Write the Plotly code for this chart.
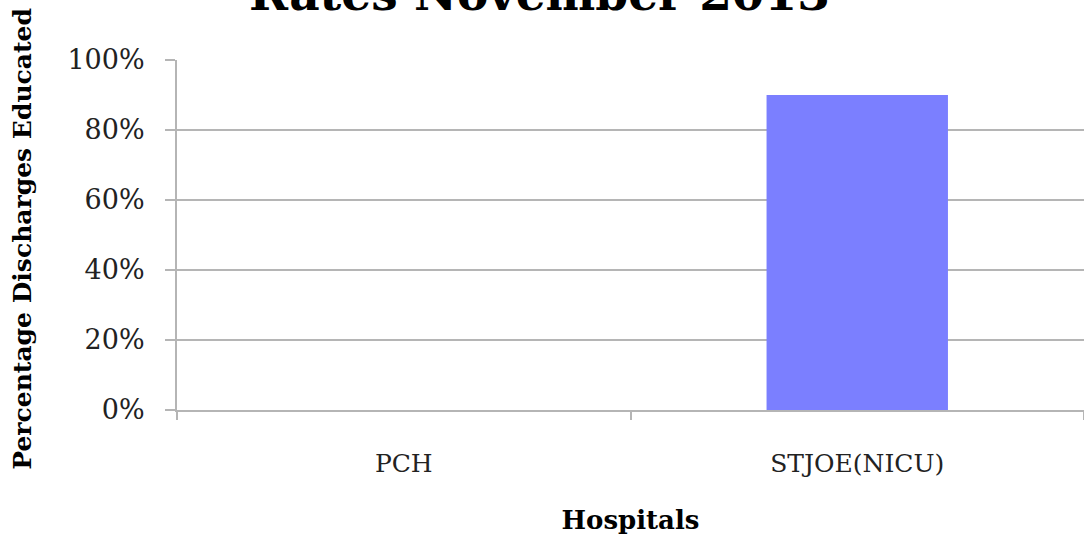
import plotly.graph_objects as go

hospitals = ["PCH", "STJOE(NICU)"]
pct_educated = [0.0, 0.90]
y_ticks = [0, 0.2, 0.4, 0.6, 0.8, 1.0]
y_tick_labels = ["0%", "20%", "40%", "60%", "80%", "100%"]

FONT = "DejaVu Serif"
GRID = "#b5b5b5"

fig = go.Figure(go.Bar(
    x=hospitals, y=pct_educated, width=0.4,
    marker=dict(color="#7b7fff", line=dict(width=0)),
))

fig.update_layout(
    width=1084, height=537,
    margin=dict(l=177, r=0, t=60, b=127),
    paper_bgcolor="white", plot_bgcolor="white",
    showlegend=False,
    font=dict(family=FONT, color="#222222"),
    annotations=[
        dict(
            text="<b>Rates November 2013</b>", xref="paper", yref="paper",
            x=0.4, y=1.106, xanchor="center", yanchor="bottom", showarrow=False,
            font=dict(family=FONT, size=47, color="black"),
        ),
        dict(
            text="<b>Percentage Discharges Educated</b>", xref="paper", yref="paper",
            x=-0.1707, y=0.49, xanchor="center", yanchor="middle", textangle=-90,
            showarrow=False, font=dict(family=FONT, size=25, color="black"),
        ),
    ],
)
fig.update_xaxes(
    type="category", showgrid=False, showline=True, linecolor=GRID, linewidth=2,
    ticks="outside", tickson="boundaries", ticklen=8, tickcolor=GRID, tickwidth=2,
    tickfont=dict(size=25, family=FONT, color="#222222"), ticklabelstandoff=30,
    title=dict(text="<b>Hospitals</b>", font=dict(size=26, family=FONT, color="black"), standoff=34),
)
fig.update_yaxes(
    range=[0, 1], tickvals=y_ticks, ticktext=y_tick_labels,
    showgrid=True, gridcolor=GRID, gridwidth=2, zeroline=False,
    showline=True, linecolor=GRID, linewidth=2,
    ticks="outside", ticklen=10, tickcolor=GRID, tickwidth=2,
    tickfont=dict(size=27, family=FONT, color="#222222"), ticklabelstandoff=15,
)

fig.write_html("out.html", config={"displayModeBar": False},
               post_script="document.body.style.margin='0';")
